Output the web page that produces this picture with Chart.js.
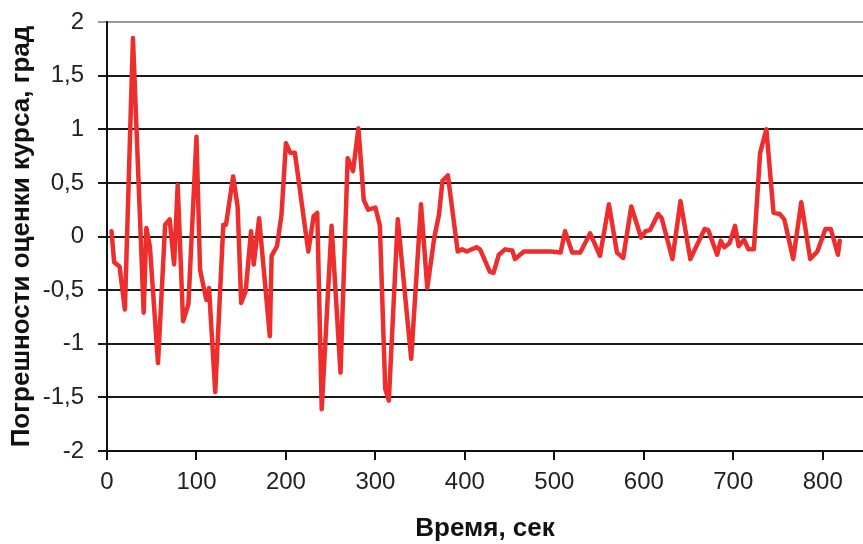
<!DOCTYPE html>
<html>
<head>
<meta charset="utf-8">
<script src="https://cdn.jsdelivr.net/npm/chart.js@4"></script>
<style>
  html, body { margin: 0; padding: 0; background: #fff; }
  #wrap { width: 863px; height: 544px; }
</style>
</head>
<body>
<div id="wrap"><canvas id="chart" width="863" height="544"></canvas></div>
<script>
// время, сек
const times = [5, 8, 14, 20, 29, 41, 44, 48, 57, 65, 70, 75, 79, 85, 91, 100, 104, 111, 114, 121,
    130, 133, 141, 146, 150, 155, 161, 164, 170, 182, 184, 190, 195, 200, 205, 210, 225, 231, 235, 240,
    251, 261, 269, 275, 281, 287, 292, 300, 305, 311, 315, 325, 340, 351, 358, 366, 371, 375, 381, 392,
    397, 402, 413, 417, 428, 432, 438, 445, 453, 456, 466, 496, 507, 512, 520, 529, 540, 551, 561, 570,
    577, 586, 597, 602, 607, 616, 620, 632, 641, 652, 668, 672, 682, 686, 690, 696, 702, 706, 712, 717,
    723, 730, 737, 745, 752, 757, 767, 776, 786, 794, 803, 809, 817, 819];

// погрешность, град
const errors = [0.05, -0.24, -0.28, -0.68, 1.85, -0.71, 0.08, -0.1, -1.18, 0.11, 0.16, -0.26, 0.48, -0.79, -0.63, 0.93, -0.31, -0.59, -0.48, -1.45,
    0.11, 0.11, 0.56, 0.28, -0.62, -0.51, 0.05, -0.26, 0.17, -0.93, -0.18, -0.09, 0.2, 0.87, 0.78, 0.78, -0.14, 0.19, 0.22, -1.61,
    0.1, -1.27, 0.73, 0.61, 1.01, 0.34, 0.25, 0.27, 0.1, -1.42, -1.53, 0.16, -1.14, 0.3, -0.48, 0.0, 0.2, 0.52, 0.57, -0.14,
    -0.12, -0.14, -0.1, -0.12, -0.33, -0.34, -0.17, -0.12, -0.13, -0.21, -0.14, -0.14, -0.15, 0.05, -0.15, -0.15, 0.03, -0.18, 0.3, -0.15,
    -0.2, 0.28, -0.01, 0.05, 0.06, 0.21, 0.17, -0.21, 0.33, -0.21, 0.07, 0.06, -0.17, -0.04, -0.1, -0.06, 0.1, -0.09, -0.03, -0.12,
    -0.12, 0.78, 1.0, 0.22, 0.21, 0.16, -0.21, 0.32, -0.21, -0.14, 0.07, 0.07, -0.17, -0.04];

const xTicks = [0, 100, 200, 300, 400, 500, 600, 700, 800];
const yTicks = [-2, -1.5, -1, -0.5, 0, 0.5, 1, 1.5, 2];

const points = times.map((t, i) => ({ x: t, y: errors[i] }));

const tickFont = { family: 'Liberation Sans, Arial, sans-serif', size: 24 };
const titleFont = { family: 'Liberation Sans, Arial, sans-serif', size: 26, weight: 'bold' };

new Chart(document.getElementById('chart').getContext('2d'), {
    type: 'line',
    data: {
        datasets: [{
            data: points,
            borderColor: 'rgb(238, 45, 45)',
            borderWidth: 4.5,
            borderJoinStyle: 'round',
            borderCapStyle: 'round',
            pointRadius: 0,
            tension: 0,
            fill: false
        }]
    },
    options: {
        responsive: false,
        animation: false,
        layout: { padding: { top: 22, right: 0, left: 0, bottom: 0 } },
        plugins: { legend: { display: false }, tooltip: { enabled: false } },
        scales: {
            x: {
                type: 'linear',
                min: 0,
                max: 845,
                afterBuildTicks: axis => { axis.ticks = xTicks.map(v => ({ value: v })); },
                afterFit: axis => { axis.height = 93; },
                border: { display: true, color: '#111', width: 2 },
                grid: { drawOnChartArea: false, drawTicks: true, tickLength: 9, color: '#111', lineWidth: 2 },
                ticks: { font: tickFont, color: '#222', padding: 8, maxRotation: 0 },
                title: {
                    display: true,
                    text: 'Время, сек',
                    font: titleFont,
                    color: '#111',
                    padding: { top: 0, bottom: 0 }
                }
            },
            y: {
                min: -2,
                max: 2,
                afterBuildTicks: axis => { axis.ticks = yTicks.map(v => ({ value: v })); },
                afterFit: axis => {
                    axis.width = 107;
                    axis.paddingTop = 0;
                    axis.paddingBottom = 0;
                },
                border: { display: true, color: '#111', width: 2 },
                grid: {
                    drawTicks: true,
                    tickLength: 9,
                    color: ctx => (ctx.tick && ctx.tick.value === 2 ? '#999' : '#1a1a1a'),
                    lineWidth: 2
                },
                ticks: {
                    font: tickFont,
                    color: '#222',
                    padding: 14,
                    callback: v => String(v).replace('.', ',')
                },
                title: {
                    display: true,
                    text: 'Погрешности оценки курса, град',
                    font: titleFont,
                    color: '#111',
                    padding: { top: 6, bottom: 0 }
                }
            }
        }
    }
});
</script>
</body>
</html>
